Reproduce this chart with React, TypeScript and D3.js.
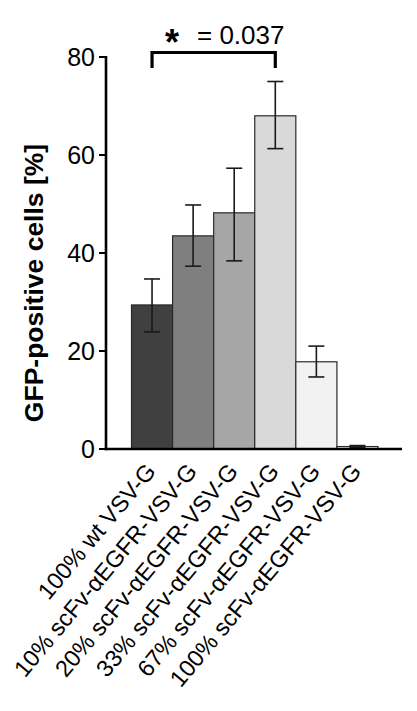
import React from "react";
import * as d3 from "d3";

const categories = [
  "100% wt VSV-G",
  "10% scFv-αEGFR-VSV-G",
  "20% scFv-αEGFR-VSV-G",
  "33% scFv-αEGFR-VSV-G",
  "67% scFv-αEGFR-VSV-G",
  "100% scFv-αEGFR-VSV-G",
];
const means = [29.4, 43.5, 48.2, 68.0, 17.8, 0.5];
const errUpper = [34.7, 49.8, 57.3, 75.0, 21.0, 0.7];
const errLower = [23.9, 37.3, 38.4, 61.3, 14.7, 0.3];
const barColors = ["#404040", "#7f7f7f", "#a6a6a6", "#d9d9d9", "#f2f2f2", "#ffffff"];
const yTicks = [0, 20, 40, 60, 80];
const yLabel = "GFP-positive cells [%]";
const sigLabel = "= 0.037";
const sigPair = [0, 3];

const W = 417;
const H = 711;
const FONT = "'Liberation Sans', Arial, Helvetica, sans-serif";

export default function App() {
  const axisX = 106;
  const y = d3.scaleLinear().domain([0, 80]).range([449, 57]);
  const x = d3
    .scaleBand<string>()
    .domain(categories)
    .range([131.5, 378])
    .paddingInner(0)
    .paddingOuter(0);
  const bw = x.bandwidth();
  const cx = (i: number) => (x(categories[i]) as number) + bw / 2;

  const bx1 = cx(sigPair[0]);
  const bx2 = cx(sigPair[1]);
  const bTop = 52.5;
  const bBot = 68;

  return (
    <svg
      width={W}
      height={H}
      viewBox={`0 0 ${W} ${H}`}
      style={{ position: "absolute", left: 0, top: 0, background: "#fff" }}
      fontFamily={FONT}
    >
      {/* bars */}
      {categories.map((c, i) => (
        <rect
          key={c}
          x={x(c)}
          y={y(means[i])}
          width={bw}
          height={y(0) - y(means[i])}
          fill={barColors[i]}
          stroke="#2a2a2a"
          strokeWidth={1.2}
        />
      ))}
      {/* error bars */}
      {categories.map((c, i) => (
        <g key={"e" + c} stroke="#1a1a1a" strokeWidth={1.6}>
          <line x1={cx(i)} x2={cx(i)} y1={y(errUpper[i])} y2={y(errLower[i])} />
          <line x1={cx(i) - 8} x2={cx(i) + 8} y1={y(errUpper[i])} y2={y(errUpper[i])} />
          <line x1={cx(i) - 8} x2={cx(i) + 8} y1={y(errLower[i])} y2={y(errLower[i])} />
        </g>
      ))}
      {/* axes */}
      <line x1={axisX} x2={axisX} y1={y(80) - 1} y2={y(0) + 1.3} stroke="#000" strokeWidth={2.6} />
      <line x1={axisX - 1.3} x2={402} y1={y(0)} y2={y(0)} stroke="#000" strokeWidth={2.6} />
      {yTicks.map((t) => (
        <g key={t}>
          <line x1={axisX - 7} x2={axisX} y1={y(t)} y2={y(t)} stroke="#000" strokeWidth={2} />
          <text
            x={axisX - 11}
            y={y(t)}
            textAnchor="end"
            dominantBaseline="central"
            fontSize={25}
            fill="#000"
          >
            {t}
          </text>
        </g>
      ))}
      {/* y label */}
      <text
        transform={`translate(43, 283) rotate(-90)`}
        textAnchor="middle"
        fontSize={26.5}
        fontWeight="bold"
        fill="#000"
      >
        {yLabel}
      </text>
      {/* x labels */}
      {categories.map((c, i) => (
        <text
          key={"l" + c}
          transform={`translate(${cx(i) + 5}, 472) rotate(-50)`}
          textAnchor="end"
          fontSize={23.5}
          fill="#000"
        >
          {c}
        </text>
      ))}
      {/* significance bracket */}
      <path
        d={`M${bx1},${bBot} L${bx1},${bTop} L${bx2},${bTop} L${bx2},${bBot}`}
        fill="none"
        stroke="#000"
        strokeWidth={3.2}
      />
      <text x={172} y={55} textAnchor="middle" fontSize={36} fontWeight="bold" fill="#000">
        *
      </text>
      <text x={197} y={44} fontSize={26} fill="#000">
        {sigLabel}
      </text>
    </svg>
  );
}
